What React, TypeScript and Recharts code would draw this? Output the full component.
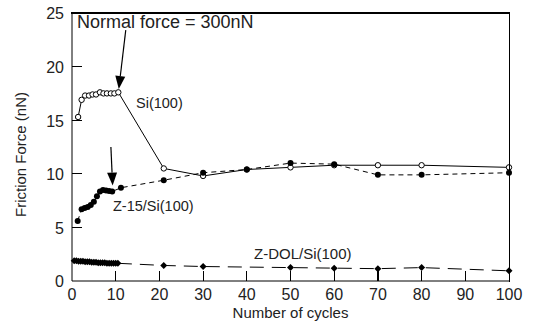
import React from "react";
import { LineChart, Line, XAxis, YAxis, ReferenceLine } from "recharts";

// cycles / friction force (nN)
const siCycles = [1.4, 2.2, 3.0, 3.9, 4.7, 5.5, 6.4, 7.2, 8.0, 8.9, 9.7, 10.6, 21, 30, 40, 50, 60, 70, 80, 100];
const siForce = [15.3, 16.9, 17.3, 17.3, 17.4, 17.4, 17.6, 17.5, 17.5, 17.5, 17.5, 17.6, 10.5, 9.8, 10.4, 10.6, 10.8, 10.8, 10.8, 10.6];

const z15Cycles = [1.3, 2.2, 2.9, 3.6, 4.3, 5.0, 5.7, 6.4, 7.1, 7.8, 8.5, 9.2, 11.2, 21, 30, 40, 50, 60, 70, 80, 100];
const z15Force = [5.6, 6.7, 6.8, 6.9, 7.1, 7.4, 7.9, 8.35, 8.5, 8.45, 8.4, 8.35, 8.7, 9.4, 10.1, 10.4, 11.0, 10.9, 9.9, 9.9, 10.1];

const zdolCycles = [0.5, 1.0, 1.5, 2.0, 2.5, 3.0, 3.5, 4.0, 4.5, 5.0, 5.5, 6.0, 6.5, 7.0, 7.5, 8.0, 8.5, 9.0, 9.5, 10.0, 10.5, 21, 30, 50, 60, 70, 80, 100];
const zdolForce = [1.9, 1.9, 1.85, 1.85, 1.85, 1.8, 1.8, 1.8, 1.75, 1.75, 1.75, 1.7, 1.7, 1.7, 1.7, 1.65, 1.65, 1.65, 1.65, 1.65, 1.65, 1.45, 1.35, 1.25, 1.2, 1.15, 1.25, 0.95];

const xTicks = [0, 10, 20, 30, 40, 50, 60, 70, 80, 90, 100];
const yTicks = [0, 5, 10, 15, 20, 25];
const xInnerTicks = [10, 20, 30, 40, 50, 60, 70, 80, 90];
const yInnerTicks = [5, 10, 15, 20];

// arrows: [tailX, tailY, tipX, tipY]
const arrows = [
  [12.3, 23.4, 10.7, 17.9],
  [8.9, 12.5, 9.3, 8.9],
];

const toPoints = (xs: number[], ys: number[]) => xs.map((x, i) => ({ x, y: ys[i] }));
const siData = toPoints(siCycles, siForce);
const z15Data = toPoints(z15Cycles, z15Force);
const zdolData = toPoints(zdolCycles, zdolForce);

const FONT = "'Liberation Sans', Arial, sans-serif";
const TXT = "#222";

// plot geometry (chart margins + axis sizes)
const W = 540, H = 329;
const M = { top: 13, right: 31, bottom: 16, left: 12 };
const Y_W = 60, X_H = 32;
const PL = M.left + Y_W, PR = W - M.right, PT = M.top, PB = H - M.bottom - X_H;

const OpenDot = (p: any) => <circle cx={p.cx} cy={p.cy} r={2.7} fill="#fff" stroke="#000" strokeWidth={1} />;
const FilledDot = (p: any) => <circle cx={p.cx} cy={p.cy} r={3} fill="#000" />;
const Diamond = (p: any) => (
  <polygon points={`${p.cx},${p.cy - 3.5} ${p.cx + 3.5},${p.cy} ${p.cx},${p.cy + 3.5} ${p.cx - 3.5},${p.cy}`} fill="#000" />
);

const XTick = (p: any) => (
  <text x={p.x} y={p.y} dy="0.71em" textAnchor="middle" fontSize={16} fontFamily={FONT} fill={TXT}>{p.payload.value}</text>
);
const YTick = (p: any) => (
  <text x={p.x} y={p.y} dy="0.4em" textAnchor="end" fontSize={16} fontFamily={FONT} fill={TXT}>{p.payload.value}</text>
);

const Arrow = (p: any) => {
  const { x1, y1, x2, y2 } = p;
  const dx = x2 - x1, dy = y2 - y1;
  const len = Math.sqrt(dx * dx + dy * dy);
  const ux = dx / len, uy = dy / len;
  const hl = 13, hw = 5;
  const bx = x2 - ux * hl, by = y2 - uy * hl;
  return (
    <g>
      <line x1={x1} y1={y1} x2={bx} y2={by} stroke="#000" strokeWidth={1.2} />
      <polygon points={`${x2},${y2} ${bx - uy * hw},${by + ux * hw} ${bx + uy * hw},${by - ux * hw}`} fill="#000" />
    </g>
  );
};

const labelStyle: React.CSSProperties = { position: "absolute", fontFamily: FONT, color: TXT, whiteSpace: "nowrap", lineHeight: 1 };
const mark: React.CSSProperties = { position: "absolute", background: "#000", zIndex: 5 };

export default function App() {
  const pw = PR - PL, ph = PB - PT;
  return (
    <div style={{ position: "absolute", left: 0, top: 0, width: W, height: H, background: "#fff" }}>
      <LineChart width={W} height={H} margin={M}>
        <XAxis type="number" dataKey="x" domain={[0, 100]} ticks={xTicks} tickSize={0} tickMargin={8}
          axisLine={{ stroke: "#000" }} tick={<XTick />} height={X_H} allowDuplicatedCategory={false}
          label={{ value: "Number of cycles", position: "insideBottom", offset: -5, fontSize: 15, fontFamily: FONT, fill: TXT }} />
        <YAxis type="number" dataKey="y" domain={[0, 25]} ticks={yTicks} tickSize={0} tickMargin={8}
          axisLine={{ stroke: "#000" }} tick={<YTick />} width={Y_W}
          label={{ value: "Friction Force (nN)", angle: -90, position: "insideLeft", offset: 9, dy: 70, fontSize: 15, fontFamily: FONT, fill: TXT }} />
        <Line data={siData} dataKey="y" stroke="#000" strokeWidth={1} dot={<OpenDot />} isAnimationActive={false} />
        <Line data={z15Data} dataKey="y" stroke="#000" strokeWidth={1} strokeDasharray="5 4" dot={<FilledDot />} isAnimationActive={false} />
        <Line data={zdolData} dataKey="y" stroke="#000" strokeWidth={1} strokeDasharray="14 8" dot={<Diamond />} isAnimationActive={false} />
        {arrows.map((a, i) => (
          <ReferenceLine key={i} segment={[{ x: a[0], y: a[1] }, { x: a[2], y: a[3] }]} shape={<Arrow />} />
        ))}
      </LineChart>
      {/* frame (top / right) and inward tick marks */}
      <div style={{ ...mark, left: PL - 1, top: PT - 1, width: pw + 2, height: 1.5 }} />
      <div style={{ ...mark, left: PR - 0.5, top: PT - 1, width: 1.5, height: ph + 2 }} />
      {xInnerTicks.map((v) => (
        <div key={"xt" + v} style={{ ...mark, left: PL + (v / 100) * pw - 0.5, top: PB - 10, width: 1.2, height: 10 }} />
      ))}
      {yInnerTicks.map((v) => (
        <div key={"yt" + v} style={{ ...mark, left: PL, top: PB - (v / 25) * ph - 0.5, width: 10, height: 1.2 }} />
      ))}
      <div style={{ ...labelStyle, left: 77, top: 13, fontSize: 18 }}>Normal force = 300nN</div>
      <div style={{ ...labelStyle, left: 136, top: 96, fontSize: 14.5 }}>Si(100)</div>
      <div style={{ ...labelStyle, left: 113, top: 199, fontSize: 14.5 }}>Z-15/Si(100)</div>
      <div style={{ ...labelStyle, left: 254, top: 246, fontSize: 15 }}>Z-DOL/Si(100)</div>
    </div>
  );
}
